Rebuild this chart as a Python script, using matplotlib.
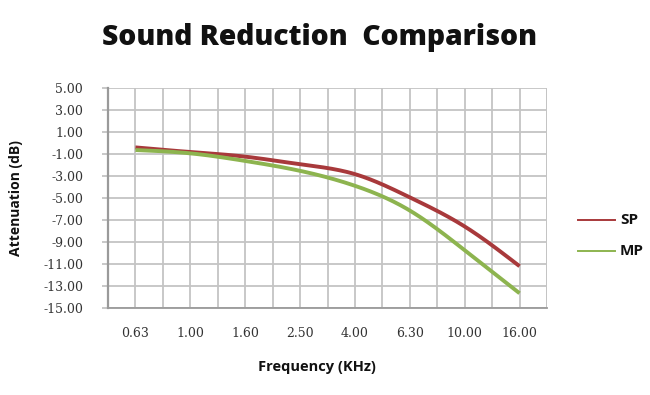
import numpy as np
import matplotlib
matplotlib.use("Agg")
import matplotlib.pyplot as plt
from matplotlib.ticker import FixedLocator
from matplotlib.lines import Line2D

categories = ["0.63", "1.00", "1.60", "2.50", "4.00", "6.30", "10.00", "16.00"]
sp_values = [-0.40, -0.82, -1.24, -1.93, -2.83, -4.94, -7.59, -11.20]
mp_values = [-0.64, -0.94, -1.63, -2.53, -3.89, -6.14, -9.75, -13.66]
y_ticks = [5, 3, 1, -1, -3, -5, -7, -9, -11, -13, -15]
y_labels = ["5.00", "3.00", "1.00", "-1.00", "-3.00", "-5.00", "-7.00",
            "-9.00", "-11.00", "-13.00", "-15.00"]
series_names = ["SP", "MP"]

SP_COLOR = "#a8393b"
MP_COLOR = "#8db44f"
GRID = "#c4c4c4"
SPINE = "#9a9a9a"


def natural_spline(x, y, n=40):
    x = np.asarray(x, float)
    y = np.asarray(y, float)
    m = len(x)
    h = np.diff(x)
    A = np.zeros((m, m))
    r = np.zeros(m)
    A[0, 0] = A[-1, -1] = 1.0
    for i in range(1, m - 1):
        A[i, i - 1] = h[i - 1]
        A[i, i] = 2 * (h[i - 1] + h[i])
        A[i, i + 1] = h[i]
        r[i] = 6 * ((y[i + 1] - y[i]) / h[i] - (y[i] - y[i - 1]) / h[i - 1])
    M = np.linalg.solve(A, r)
    xs, ys = [], []
    for i in range(m - 1):
        t = np.linspace(x[i], x[i + 1], n, endpoint=(i == m - 2))
        a = x[i + 1] - t
        b = t - x[i]
        s = (M[i] * a ** 3 + M[i + 1] * b ** 3) / (6 * h[i]) + \
            (y[i] / h[i] - M[i] * h[i] / 6) * a + (y[i + 1] / h[i] - M[i + 1] * h[i] / 6) * b
        xs.append(t)
        ys.append(s)
    return np.concatenate(xs), np.concatenate(ys)


fig = plt.figure(figsize=(6.5, 3.95), dpi=100)
ax = fig.add_axes([108 / 650, 1 - 308 / 395, (547 - 108) / 650, (308 - 88) / 395])

xpos = np.arange(len(categories))
ax.set_xlim(-0.5, len(categories) - 0.5)
ax.set_ylim(-15, 5)

ax.xaxis.set_major_locator(FixedLocator(xpos))
ax.set_xticklabels(categories)
ax.set_yticks(y_ticks)
ax.set_yticklabels(y_labels)

ax.grid(False)
for xv in np.arange(0, len(categories) - 0.25, 0.5):
    ax.axvline(xv, color=GRID, lw=1.3, zorder=1)
ax.axvline(len(categories) - 0.5, color=GRID, lw=1.3, zorder=1)
for yv in y_ticks:
    ax.axhline(yv, color=GRID, lw=1.3, zorder=1)

for s in ["top", "right"]:
    ax.spines[s].set_visible(False)
ax.spines["left"].set_color(SPINE)
ax.spines["left"].set_linewidth(1.6)
ax.spines["bottom"].set_color(SPINE)
ax.spines["bottom"].set_linewidth(1.3)

ax.tick_params(axis="y", which="major", length=4, width=1.3, color=GRID, pad=14,
               labelsize=9, labelcolor="#333333")
ax.tick_params(axis="x", which="major", length=0, pad=14,
               labelsize=9, labelcolor="#333333")
for lab in ax.get_xticklabels() + ax.get_yticklabels():
    lab.set_family("DejaVu Serif")

sx, sy = natural_spline(xpos, sp_values)
mx, my = natural_spline(xpos, mp_values)
ax.plot(sx, sy, color=SP_COLOR, lw=2.8, solid_capstyle="butt", zorder=3)
ax.plot(mx, my, color=MP_COLOR, lw=2.8, solid_capstyle="butt", zorder=3)

for name, col, yy in [(series_names[0], SP_COLOR, 220), (series_names[1], MP_COLOR, 251)]:
    fig.add_artist(Line2D([578 / 650, 615 / 650], [1 - yy / 395, 1 - yy / 395],
                          color=col, lw=1.4, transform=fig.transFigure))
    fig.text(620 / 650, 1 - yy / 395, name, ha="left", va="center",
             fontsize=11, fontweight="bold", family="Open Sans", color="#111111")

fig.text(320 / 650, 1 - 38 / 395, "Sound Reduction  Comparison", ha="center", va="center",
         fontsize=20.3, fontweight=800, family="Open Sans", color="#111111")
fig.text(317 / 650, 1 - 367 / 395, "Frequency (KHz)", ha="center", va="center",
         fontsize=10.5, fontweight="bold", family="Open Sans", color="#111111")
fig.text(16 / 650, 1 - 198 / 395, "Attenuation (dB)", ha="center", va="center",
         rotation=90, fontsize=10, fontweight="bold", family="Open Sans", color="#111111")

fig.savefig("out.png", dpi=100, facecolor="white")
